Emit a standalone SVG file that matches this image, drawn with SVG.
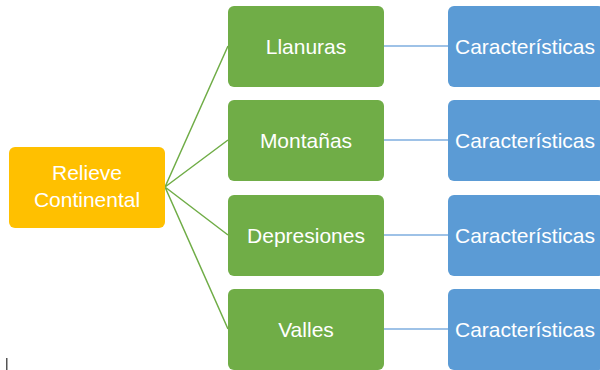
<svg xmlns="http://www.w3.org/2000/svg" width="600" height="370" viewBox="0 0 600 370">
<style>
.t{font-family:"Liberation Sans",Arial,sans-serif;font-size:21px;fill:#fff;text-anchor:middle}
.g{fill:#70AD47}
.b{fill:#5B9BD5}
.o{fill:#FFC000}
.lg{stroke:#70AD47;stroke-width:1.5;fill:none}
.lb{stroke:#7FAEE0;stroke-width:1.5;fill:none}
</style>
<rect width="600" height="370" fill="#fff"/>
<g id="connectors">
<path class="lg" d="M165,187 L228,46 M165,187 L228,140 M165,187 L228,235 M165,187 L228,329"/>
<path class="lb" d="M384,46 H448 M384,140 H448 M384,235 H448 M384,329 H448"/>
</g>
<g id="relieve"><rect class="o" x="9" y="147" width="156" height="81" rx="6"/><text class="t" x="87" y="180">Relieve</text><text class="t" x="87" y="207">Continental</text></g>
<g id="llanuras"><rect class="g" x="228" y="6" width="156" height="81" rx="6"/><text class="t" x="306" y="54">Llanuras</text></g>
<g id="montanas"><rect class="g" x="228" y="100" width="156" height="81" rx="6"/><text class="t" x="306" y="148">Montañas</text></g>
<g id="depresiones"><rect class="g" x="228" y="195" width="156" height="81" rx="6"/><text class="t" x="306" y="243">Depresiones</text></g>
<g id="valles"><rect class="g" x="228" y="289" width="156" height="81" rx="6"/><text class="t" x="306" y="337">Valles</text></g>
<g id="car1"><rect class="b" x="448" y="6" width="156" height="81" rx="6"/><text class="t" x="525" y="54">Características</text></g>
<g id="car2"><rect class="b" x="448" y="100" width="156" height="81" rx="6"/><text class="t" x="525" y="148">Características</text></g>
<g id="car3"><rect class="b" x="448" y="195" width="156" height="81" rx="6"/><text class="t" x="525" y="243">Características</text></g>
<g id="car4"><rect class="b" x="448" y="289" width="156" height="81" rx="6"/><text class="t" x="525" y="337">Características</text></g>
<rect x="6" y="358" width="1.5" height="12" fill="#555"/>
</svg>
